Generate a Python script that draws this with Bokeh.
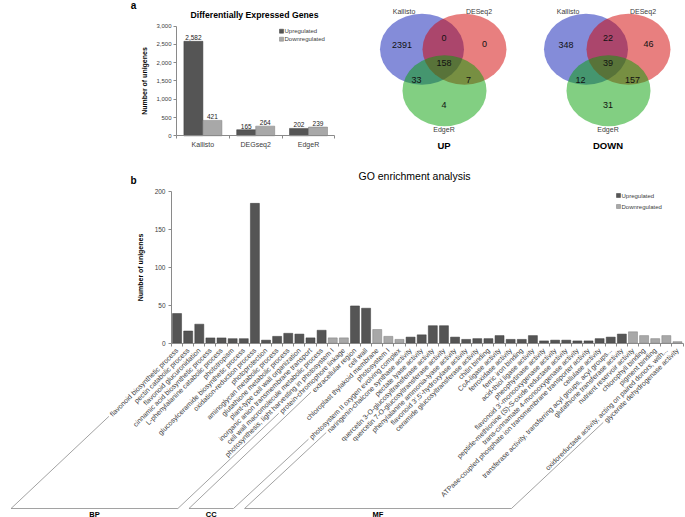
import math
from bokeh.plotting import figure
from bokeh.models import Range1d, FixedTicker, NumeralTickFormatter, CustomJSTickFormatter
from bokeh.layouts import column, row
from bokeh.embed import file_html
from bokeh.resources import INLINE
from bokeh.core.properties import value

FONT = "Liberation Sans"
DARK, DARK_LINE = "#555555", "#3a3a3a"
LIGHT, LIGHT_LINE = "#a8a8a8", "#7c7c7c"
TXT = "#3c3c3c"
AXC = "#8a8a8a"

# ---------------- data: panel a ----------------
tools = ["Kallisto", "DEGseq2", "EdgeR"]
up_counts = [2582, 165, 202]
down_counts = [421, 264, 239]
deg_ticks = [0, 500, 1000, 1500, 2000, 2500, 3000]

# ---------------- data: venn ----------------
venn_sets = ["Kallisto", "DESeq2", "EdgeR"]
venn_regions = ["K", "D", "E", "KD", "KE", "DE", "KDE"]
venn_up = [2391, 0, 4, 0, 33, 7, 158]
venn_down = [348, 46, 31, 22, 12, 157, 39]
venn_titles = ["UP", "DOWN"]

# ---------------- data: panel b ----------------
go_terms = [
    "flavonoid biosynthetic process", "pectin catabolic process", "flavonoid glucuronidation",
    "cinnamic acid biosynthetic process", "L-phenylalanine catabolic process", "phototropism",
    "glucosylceramide biosynthetic process", "oxidation-reduction process", "photoprotection",
    "aminoglycan metabolic process", "glutathione metabolic process", "plant-type cell wall organization",
    "inorganic anion transmembrane transport", "cell wall macromolecule metabolic process",
    "photosynthesis, light harvesting in photosystem I", "protein-chromophore linkage",
    "extracellular region", "cell wall", "chloroplast thylakoid membrane", "photosystem I",
    "photosystem II oxygen evolving complex",
    "naringenin-chalcone synthase activity", "pectate lyase activity",
    "quercetin 3-O-glucosyltransferase activity", "quercetin 7-O-glucosyltransferase activity",
    "phenylalanine ammonia-lyase activity", "flavonoid 3',5'-hydroxylase activity",
    "ceramide glucosyltransferase activity", "chitin binding", "CoA-ligase activity",
    "ferroxidase activity", "ferric iron binding", "acid-thiol ligase activity",
    "pheophytinase activity", "flavonoid 3'-monooxygenase activity",
    "peptide-methionine (S)-S-oxide reductase activity", "trans-cinnamate 4-monooxygenase activity",
    "ATPase-coupled phosphate ion transmembrane transporter activity", "cellulase activity",
    "transferase activity, transferring acyl groups, acyl groups...",
    "glutathione transferase activity", "nutrient reservoir activity", "chlorophyll binding",
    "pigment binding", "oxidoreductase activity, acting on paired donors, with...",
    "glycerate dehydrogenase activity",
]
go_counts = [39, 16, 25, 7, 7, 6, 6, 184, 4, 9, 13, 12, 7, 17, 7, 7,
             49, 46, 18, 9, 5,
             8, 11, 23, 23, 8, 5, 6, 6, 10, 5, 5, 10, 3, 4, 4, 3, 3, 6, 8, 12, 15, 10, 6, 10, 2]
go_reg = ["U", "U", "U", "U", "U", "U", "U", "U", "U", "U", "U", "U", "U", "U", "D", "D",
          "U", "U", "D", "D", "D",
          "U", "U", "U", "U", "U", "U", "U", "U", "U", "U", "U", "U", "U", "U", "U", "U", "U",
          "U", "U", "U", "D", "D", "D", "D", "D"]
group_names = ["BP", "CC", "MF"]
group_sizes = [16, 5, 25]
go_ticks = [0, 50, 100, 150, 200]
legend_names = ["Upregulated", "Downregulated"]

# Arial / Liberation Sans advance widths (per 1000 em) for label length estimates
CW = {" ": 278, "a": 556, "b": 556, "c": 500, "d": 556, "e": 556, "f": 278, "g": 556, "h": 556,
      "i": 222, "j": 222, "k": 500, "l": 222, "m": 833, "n": 556, "o": 556, "p": 556, "q": 556,
      "r": 333, "s": 500, "t": 278, "u": 556, "v": 500, "w": 722, "x": 500, "y": 500, "z": 500,
      ",": 278, ".": 278, "-": 333, "'": 191, "(": 333, ")": 333, "A": 667, "C": 722, "I": 278,
      "L": 556, "O": 778, "P": 667, "S": 667, "T": 611}


def text_width(s, size):
    return sum(CW.get(ch, 556) for ch in s) / 1000.0 * size


def clean(p):
    p.grid.visible = False
    p.outline_line_color = None
    p.background_fill_color = "white"
    p.border_fill_color = "white"


def txt(p, xs, ys, texts, size, align="center", baseline="middle", bold=False, color="black"):
    p.text(x=xs, y=ys, text=texts, text_font=value(FONT), text_font_size=size,
           text_align=align, text_baseline=baseline, text_color=color,
           text_font_style="bold" if bold else "normal")


def style_axis(a, label_size):
    a.axis_line_color = AXC
    a.major_tick_line_color = AXC
    a.minor_tick_line_color = None
    a.major_label_text_font = FONT
    a.major_label_text_font_size = label_size
    a.major_label_text_color = TXT
    a.axis_label_text_font = FONT
    a.axis_label_text_font_style = "bold"
    a.axis_label_text_color = "black"


# =============== panel a: DEG bars ===============
WA, HA = 335, 165
A_X0, A_CW, A_Y0 = 176.0, 52.8, 135.3
A_YS = 109.8 / 3000.0


def ax_(px):
    return (px - A_X0) / A_CW


def ay_(py):
    return (A_Y0 - py) / A_YS


pa = figure(width=WA, height=HA, x_range=Range1d(ax_(0), ax_(WA)), y_range=Range1d(ay_(HA), ay_(0)),
            output_backend="svg", toolbar_location=None, min_border=0)
clean(pa)
cx = [i + 0.5 for i in range(len(tools))]
BWA = 19.0 / A_CW
up_x = [c - BWA / 2 for c in cx]
dn_x = [c + BWA / 2 for c in cx]
pa.vbar(x=up_x, top=up_counts, bottom=0, width=BWA, fill_color=DARK, line_color=DARK_LINE, line_width=0.5)
pa.vbar(x=dn_x, top=down_counts, bottom=0, width=BWA, fill_color=LIGHT, line_color=LIGHT_LINE, line_width=0.5)
pa.text(x=up_x + dn_x, y=up_counts + down_counts, text=[f"{v:,}" for v in up_counts + down_counts],
        text_font=value(FONT), text_font_size="6.5px", text_align="center", text_baseline="bottom",
        y_offset=-1, text_color="#222222")

xa = pa.xaxis[0]
style_axis(xa, "7px")
xa.fixed_location = 0
xa.bounds = (0, len(tools))
xa.ticker = FixedTicker(ticks=cx, minor_ticks=list(range(len(tools) + 1)))
xa.formatter = CustomJSTickFormatter(args=dict(labels=tools), code="return labels[Math.floor(tick)];")
xa.major_tick_line_color = None
xa.major_tick_out = 3
xa.major_tick_in = 0
xa.minor_tick_line_color = AXC
xa.minor_tick_out = 3
xa.minor_tick_in = 0
xa.major_label_standoff = 2

ya = pa.yaxis[0]
style_axis(ya, "6px")
ya.fixed_location = 0
ya.bounds = (0, 3000)
ya.ticker = FixedTicker(ticks=deg_ticks)
ya.formatter = NumeralTickFormatter(format="0,0")
ya.major_tick_out = 3
ya.major_tick_in = 0
ya.major_label_standoff = 2
ya.axis_label = "Number of unigenes"
ya.axis_label_text_font_size = "7px"
ya.axis_label_standoff = 5

txt(pa, [ax_(133)], [ay_(5)], ["a"], "10px", bold=True)
txt(pa, [ax_(254)], [ay_(14)], ["Differentially Expressed Genes"], "8.7px", bold=True)
pa.scatter(x=[ax_(281)] * 2, y=[ay_(30.7), ay_(38.7)], marker="square", size=4,
           fill_color=[DARK, LIGHT], line_color=[DARK_LINE, LIGHT_LINE], line_width=0.5)
txt(pa, [ax_(284)] * 2, [ay_(30.7), ay_(38.7)], legend_names, "6px", align="left", color=TXT)

# =============== venn diagrams ===============
WV, HV = 350, 165
pv = figure(width=WV, height=HV, x_range=Range1d(0, WV), y_range=Range1d(HV, 0),
            x_axis_type=None, y_axis_type=None, output_backend="svg", toolbar_location=None, min_border=0)
clean(pv)
venn_cx = [108.5, 272.5]
venn_cy = 48.7
set_off = [(-22, 0), (20.5, 0), (0.5, 41.5)]
set_fill = ["#0a1ab4", "#d20000", "#05a005"]
set_alpha = [0.5, 0.5, 0.5]
reg_off = {"K": (-42, -4.4), "D": (40.5, -5), "E": (0, 56), "KD": (0, -11.7),
           "KE": (-27.5, 31), "DE": (24.5, 31), "KDE": (0, 14)}
lab_off = [(-40, -37.7), (35, -37.7), (0, 80)]
for vi, counts in enumerate([venn_up, venn_down]):
    c0 = venn_cx[vi]
    for si in range(3):
        pv.ellipse(x=[c0 + set_off[si][0]], y=[venn_cy + set_off[si][1]], width=84, height=71,
                   fill_color=set_fill[si], fill_alpha=set_alpha[si], line_color=None)
    txt(pv, [c0 + reg_off[r][0] for r in venn_regions], [venn_cy + reg_off[r][1] for r in venn_regions],
        [str(v) for v in counts], "9px", color="#111111")
    txt(pv, [c0 + o[0] for o in lab_off], [venn_cy + o[1] for o in lab_off], venn_sets, "7px", color=TXT)
    txt(pv, [c0], [venn_cy + 96], [venn_titles[vi]], "9.5px", bold=True)

# =============== panel b: GO enrichment ===============
WB, HB = 685, 352
B_X0, B_CW, B_Y0, B_YS = 171.0, 11.12, 177.7, 0.76


def bx(px):
    return (px - B_X0) / B_CW


def by(py):
    return (B_Y0 - py) / B_YS


pb = figure(width=WB, height=HB, x_range=Range1d(bx(0), bx(WB)), y_range=Range1d(by(HB), by(0)),
            output_backend="svg", toolbar_location=None, min_border=0)
clean(pb)
n = len(go_terms)
gx = [i + 0.5 for i in range(n)]
BWB = 9.0 / B_CW
fills = [DARK if r == "U" else LIGHT for r in go_reg]
lines = [DARK_LINE if r == "U" else LIGHT_LINE for r in go_reg]
pb.vbar(x=gx, top=go_counts, bottom=0, width=BWB, fill_color=fills, line_color=lines, line_width=0.5)

xb = pb.xaxis[0]
style_axis(xb, "7px")
xb.fixed_location = 0
xb.bounds = (0, n)
xb.ticker = FixedTicker(ticks=gx, minor_ticks=list(range(n + 1)))
xb.formatter = CustomJSTickFormatter(args=dict(labels=go_terms), code="return labels[Math.floor(tick)];")
xb.major_tick_line_color = None
xb.major_tick_out = 2
xb.major_tick_in = 0
xb.minor_tick_line_color = AXC
xb.minor_tick_out = 3
xb.minor_tick_in = 0
xb.major_label_standoff = 3
xb.major_label_orientation = math.pi / 4

yb = pb.yaxis[0]
style_axis(yb, "6.5px")
yb.fixed_location = 0
yb.bounds = (0, 200)
yb.ticker = FixedTicker(ticks=go_ticks)
yb.major_tick_out = 3
yb.major_tick_in = 0
yb.major_label_standoff = 3
yb.axis_label = "Number of unigenes"
yb.axis_label_text_font_size = "7px"
yb.axis_label_standoff = 8

# group brackets (slanted lines follow the first / last label of each group)
LABEL_OFF = 5.0
BR_Y = 343.0
BR_D = 166.0
ends = []
start = 0
for g, size in zip(group_names, group_sizes):
    ends.append((g, start, start + size - 1))
    start += size
for g, i0, i1 in ends:
    bottoms = []
    for i in (i0, i1):
        axp = B_X0 + (i + 0.5) * B_CW
        ayp = B_Y0 + LABEL_OFF
        L = text_width(go_terms[i], 7) + 3
        sx, sy = axp - L / math.sqrt(2), ayp + L / math.sqrt(2)
        bxp = axp - BR_D
        bottoms.append(bxp)
        pb.line(x=[bx(bxp), bx(sx)], y=[by(BR_Y), by(sy)], line_color=AXC, line_width=0.8)
    pb.line(x=[bx(bottoms[0]), bx(bottoms[1])], y=[by(BR_Y), by(BR_Y)], line_color=AXC, line_width=0.8)
    txt(pb, [bx((bottoms[0] + bottoms[1]) / 2)], [by(BR_Y + 5.5)], [g], "7.5px", bold=True)

txt(pb, [bx(133)], [by(15)], ["b"], "10px", bold=True)
txt(pb, [bx(414)], [by(10)], ["GO enrichment analysis"], "10.5px")
pb.scatter(x=[bx(618)] * 2, y=[by(30), by(41)], marker="square", size=4,
           fill_color=[DARK, LIGHT], line_color=[DARK_LINE, LIGHT_LINE], line_width=0.5)
txt(pb, [bx(621)] * 2, [by(30), by(41)], legend_names, "6px", align="left", color=TXT)

layout = column(row(pa, pv), pb)
open("out.html", "w").write(file_html(layout, INLINE))
